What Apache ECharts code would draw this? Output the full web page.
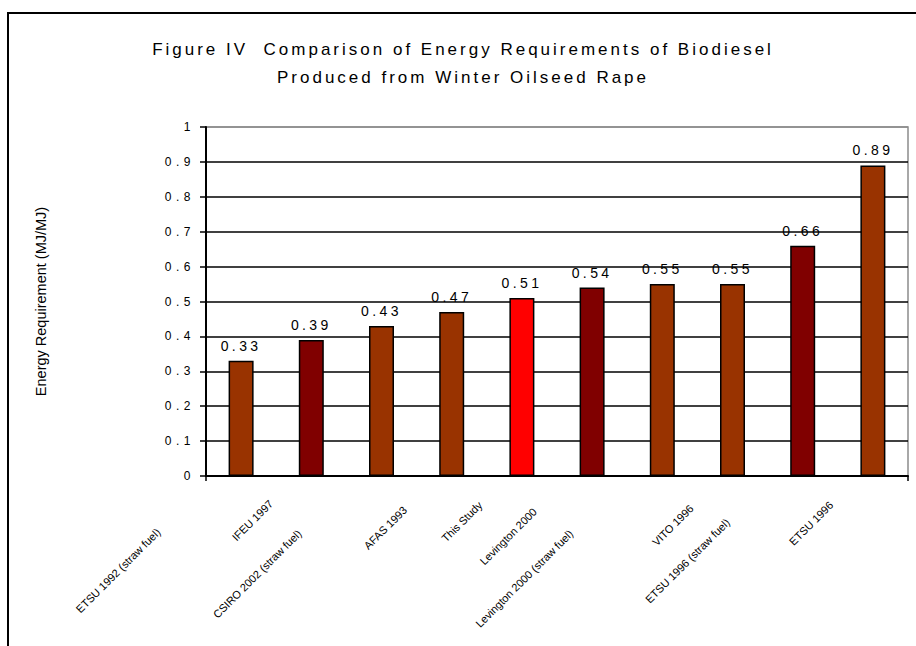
<!DOCTYPE html>
<html>
<head>
<meta charset="utf-8">
<script src="https://cdn.jsdelivr.net/npm/echarts@6/dist/echarts.min.js"></script>
<style>
  html, body { margin: 0; padding: 0; background: #ffffff; }
  #chart { width: 916px; height: 646px; }
</style>
</head>
<body>
<div id="chart"></div>
<script>
// Studies compared (in plotted order) and their energy requirement, MJ in / MJ out
const categories = [
  'ETSU 1992 (straw fuel)',
  'IFEU 1997',
  'CSIRO 2002 (straw fuel)',
  'AFAS 1993',
  'This Study',
  'Levington 2000',
  'Levington 2000 (straw fuel)',
  'VITO 1996',
  'ETSU 1996 (straw fuel)',
  'ETSU 1996'
];
const energyRequirement = [0.33, 0.39, 0.43, 0.47, 0.51, 0.54, 0.55, 0.55, 0.66, 0.89];

// Value axis range and step
const yMin = 0;
const yMax = 1;
const yStep = 0.1;

// Fill colour for each bar
const BROWN = '#993300', DARK = '#800000', RED = '#FF0000';
const barColors = [BROWN, DARK, BROWN, BROWN, RED, DARK, BROWN, BROWN, DARK, BROWN];

// Staggered placement of the slanted category names: [label margin, right padding]
const labelShift = [[-28.5, 117], [-14.5, 57], [-26.5, 116], [-14.5, 66], [-14.5, 59], [-23.5, 81], [-35.5, 129], [-10.5, 58], [-30.5, 106], [-14.5, 59]];

const FONT = '"Liberation Sans", Arial, sans-serif';

const chart = echarts.init(document.getElementById('chart'), null, { renderer: 'svg' });

// One category axis per name so each slanted label gets its own offset;
// the first axis also carries the axis line and ticks.
const xAxes = categories.map((_, i) => ({
  type: 'category',
  data: categories,
  position: 'bottom',
  boundaryGap: true,
  axisLine: { show: i === 0, lineStyle: { color: '#000', width: 2 } },
  axisTick: { show: i === 0, length: 5, lineStyle: { color: '#000', width: 1.5 } },
  axisLabel: {
    interval: idx => idx === i,
    rotate: 45,
    margin: labelShift[i][0],
    padding: [0, labelShift[i][1], 0, 0],
    hideOverlap: false,
    fontFamily: FONT,
    fontSize: 11,
    color: '#000'
  },
  splitLine: { show: false }
}));

const option = {
  animation: false,
  backgroundColor: '#ffffff',
  title: {
    text: 'Figure IV  Comparison of Energy Requirements of Biodiesel\nProduced from Winter Oilseed Rape',
    left: 458,
    top: 30,
    textAlign: 'center',
    textStyle: { fontFamily: FONT, fontSize: 17, fontWeight: 'normal', color: '#000', lineHeight: 28 }
  },
  graphic: [{
    type: 'rect',
    silent: true,
    z: -10,
    shape: { x: 8, y: 13, width: 1000, height: 1000 },
    style: { fill: 'none', stroke: '#000', lineWidth: 2 }
  }],
  grid: {
    left: 206, right: 8, top: 127, bottom: 170,
    containLabel: false,
    outerBoundsMode: 'none',
    show: true,
    borderColor: '#8c8c8c',
    borderWidth: 1.5,
    backgroundColor: 'transparent'
  },
  xAxis: xAxes,
  yAxis: {
    type: 'value',
    min: yMin,
    max: yMax,
    interval: yStep,
    name: 'Energy Requirement (MJ/MJ)',
    nameLocation: 'middle',
    nameGap: 158,
    nameRotate: 90,
    nameTextStyle: { fontFamily: FONT, fontSize: 14.5, color: '#000' },
    axisLine: { show: true, lineStyle: { color: '#000', width: 2 } },
    axisTick: { show: true, inside: false, length: 6, lineStyle: { color: '#000', width: 1.5 } },
    axisLabel: { fontFamily: FONT, fontSize: 12, color: '#000', margin: 11 },
    splitLine: {
      show: true,
      lineStyle: {
        color: ['#000', '#000', '#000', '#000', '#000', '#000', '#000', '#000', '#000', '#000', '#8c8c8c'],
        width: 1.5
      }
    }
  },
  series: [{
    type: 'bar',
    xAxisIndex: 0,
    data: energyRequirement.map((v, i) => ({ value: v, itemStyle: { color: barColors[i] } })),
    barWidth: 25,
    itemStyle: { borderColor: '#000', borderWidth: 1.5 },
    label: {
      show: true,
      position: 'top',
      distance: 8,
      fontFamily: FONT,
      fontSize: 14,
      color: '#000',
      formatter: p => p.value.toFixed(2)
    }
  }]
};

chart.setOption(option);

// Spaced-out lettering for the title, the tick numbers and the bar values
function spaceLetters() {
  document.querySelectorAll('#chart svg text').forEach(t => {
    const s = t.textContent.trim();
    if (/^(Figure|Produced)/.test(s)) t.style.letterSpacing = '3px';
    else if (/^\d\.\d\d$/.test(s)) t.style.letterSpacing = '3.4px';
    else if (/^\d(\.\d)?$/.test(s)) t.style.letterSpacing = '4.5px';
  });
}
spaceLetters();
chart.on('finished', spaceLetters);
</script>
</body>
</html>
